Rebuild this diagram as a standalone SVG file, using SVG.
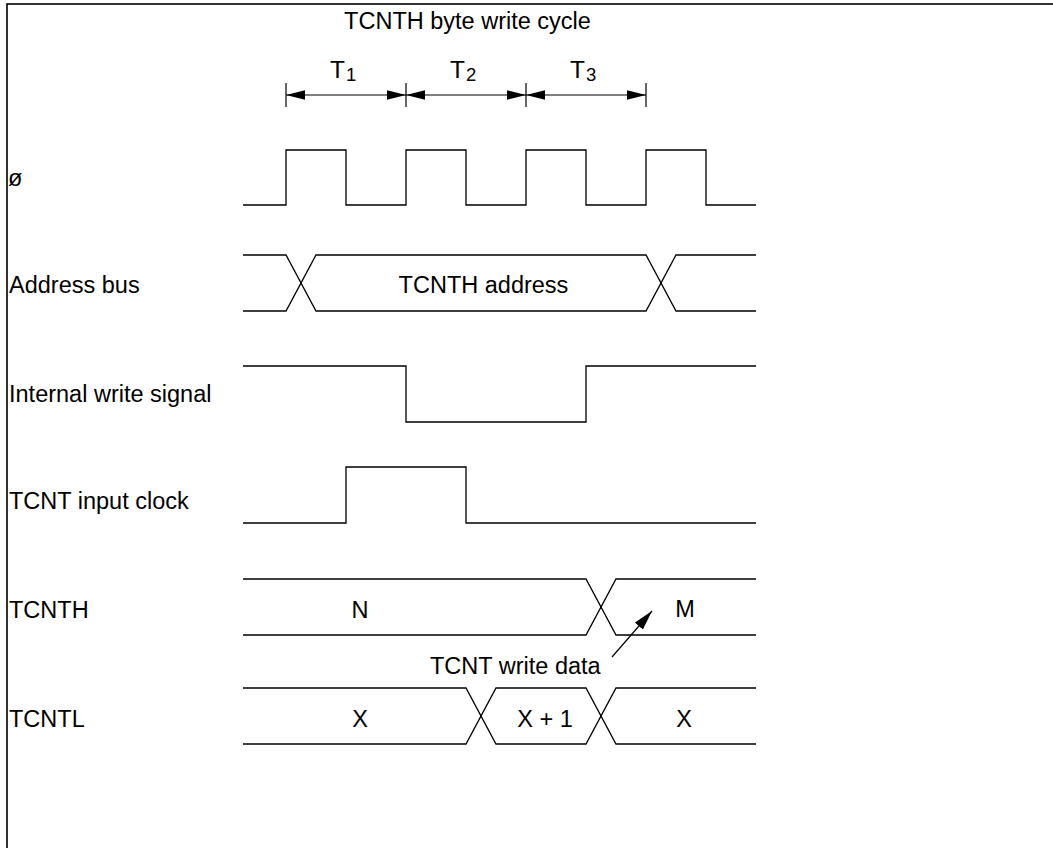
<svg xmlns="http://www.w3.org/2000/svg" width="1053" height="848" viewBox="0 0 1053 848">
  <style>
    .frame { fill: none; stroke: #000; stroke-width: 1.6; }
    .wave { fill: none; stroke: #000; stroke-width: 1.3; stroke-linejoin: miter; }
    .dim { fill: none; stroke: #000; stroke-width: 1.2; }
    .lbl { font-family: "Liberation Sans", Arial, Helvetica, sans-serif; font-size: 23.5px; fill: #000; }
    .tl { font-size: 24.5px; }
    .sub { font-size: 18.5px; }
    .mid { text-anchor: middle; }
  </style>
  <defs>
    <marker id="ah" markerUnits="userSpaceOnUse" markerWidth="19" markerHeight="10" refX="18" refY="4.5" orient="auto-start-reverse" viewBox="0 0 18 9">
      <path d="M0,0 L18,4.5 L0,9 Z" fill="#000"/>
    </marker>
    <marker id="ah2" markerUnits="userSpaceOnUse" markerWidth="20" markerHeight="11" refX="19" refY="5" orient="auto" viewBox="0 0 19 10">
      <path d="M0,0 L19,5 L0,10 Z" fill="#000"/>
    </marker>
  </defs>

  <rect class="frame" x="7" y="4" width="1100" height="900"/>

  <g id="title">
    <text class="lbl mid" x="467.5" y="28.5">TCNTH byte write cycle</text>
  </g>

  <g id="periods">
    <line class="dim" x1="286" y1="83" x2="286" y2="107"/>
    <line class="dim" x1="406" y1="83" x2="406" y2="107"/>
    <line class="dim" x1="526" y1="83" x2="526" y2="107"/>
    <line class="dim" x1="646" y1="83" x2="646" y2="107"/>
    <text class="lbl tl" x="330" y="77.5">T<tspan class="sub" dx="1" dy="3">1</tspan></text>
    <text class="lbl tl" x="450" y="77.5">T<tspan class="sub" dx="1" dy="3">2</tspan></text>
    <text class="lbl tl" x="570" y="77.5">T<tspan class="sub" dx="1" dy="3">3</tspan></text>
  </g>

  <g id="phi">
    <text class="lbl" x="8" y="185.5">ø</text>
    <path class="wave" d="M243,205 H286 V150 H346 V205 H406 V150 H466 V205 H526 V150 H586 V205 H646 V150 H706 V205 H756"/>
  </g>

  <g id="address-bus">
    <text class="lbl" x="9" y="293">Address bus</text>
    <path class="wave" d="M243,255 H286 L316,311 H646 L676,255 H756"/>
    <path class="wave" d="M243,311 H286 L316,255 H646 L676,311 H756"/>
    <text class="lbl mid" x="483.5" y="293">TCNTH address</text>
  </g>

  <g id="internal-write-signal">
    <text class="lbl" x="9" y="401.5">Internal write signal</text>
    <path class="wave" d="M243,366 H406 V422 H586 V366 H756"/>
  </g>

  <g id="tcnt-input-clock">
    <text class="lbl" x="9" y="509">TCNT input clock</text>
    <path class="wave" d="M243,523 H346 V467 H466 V523 H756"/>
  </g>

  <g id="tcnth">
    <text class="lbl" x="9" y="618">TCNTH</text>
    <path class="wave" d="M243,579 H586 L616,635 H756"/>
    <path class="wave" d="M243,635 H586 L616,579 H756"/>
    <text class="lbl mid" x="360" y="618">N</text>
    <text class="lbl mid" x="685" y="617">M</text>
  </g>

  <g id="tcnt-write-data">
    <text class="lbl" x="430" y="673.5">TCNT write data</text>
  </g>

  <g id="tcntl">
    <text class="lbl" x="9" y="726.5">TCNTL</text>
    <path class="wave" d="M243,688 H466 L496,744 H586 L616,688 H756"/>
    <path class="wave" d="M243,744 H466 L496,688 H586 L616,744 H756"/>
    <text class="lbl mid" x="360" y="727">X</text>
    <text class="lbl mid" x="545" y="727">X + 1</text>
    <text class="lbl mid" x="684" y="727">X</text>
  </g>

  <g id="connectors">
    <line class="dim" x1="286" y1="95" x2="406" y2="95" marker-start="url(#ah)" marker-end="url(#ah)"/>
    <line class="dim" x1="406" y1="95" x2="526" y2="95" marker-start="url(#ah)" marker-end="url(#ah)"/>
    <line class="dim" x1="526" y1="95" x2="646" y2="95" marker-start="url(#ah)" marker-end="url(#ah)"/>
    <line class="dim" x1="612" y1="657" x2="652" y2="611" marker-end="url(#ah2)"/>
  </g>
</svg>
